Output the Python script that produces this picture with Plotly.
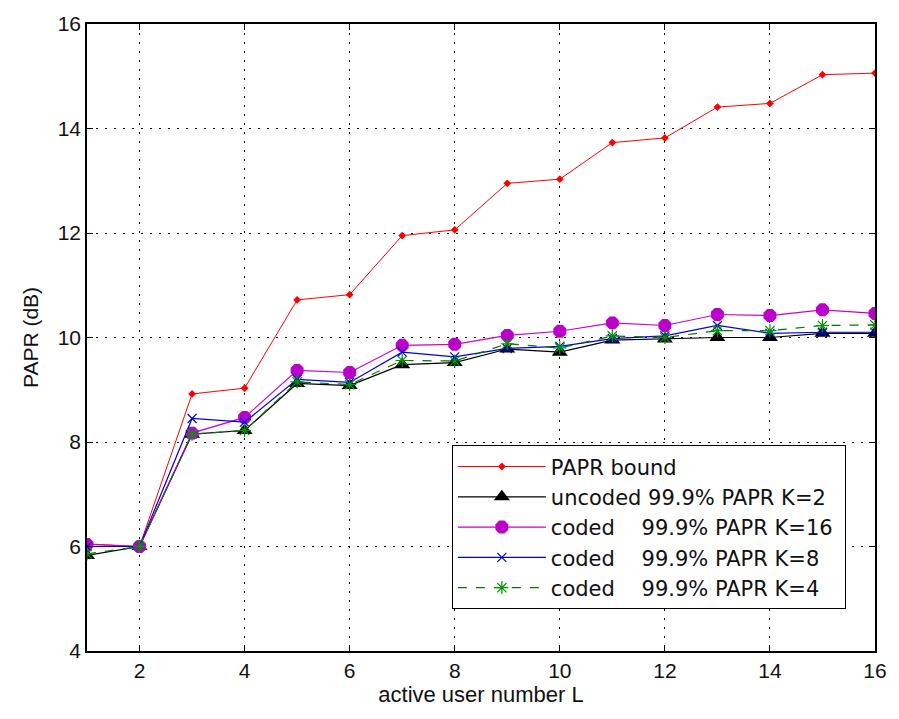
import plotly.graph_objects as go

L = list(range(1, 17))
papr_bound = [6.05, 6.0, 8.92, 9.03, 10.72, 10.82, 11.95, 12.06, 12.95, 13.03, 13.73, 13.82, 14.41, 14.48, 15.03, 15.06]
uncoded_k2 = [5.83, 6.0, 8.15, 8.22, 9.12, 9.08, 9.48, 9.52, 9.78, 9.72, 9.95, 9.97, 10.0, 10.0, 10.08, 10.08]
coded_k16 = [6.04, 6.0, 8.17, 8.47, 9.37, 9.33, 9.85, 9.87, 10.04, 10.12, 10.28, 10.23, 10.44, 10.42, 10.53, 10.46]
coded_k8 = [6.0, 6.0, 8.45, 8.38, 9.2, 9.14, 9.72, 9.63, 9.79, 9.83, 9.98, 10.03, 10.23, 10.08, 10.1, 10.1]
coded_k4 = [5.86, 6.0, 8.15, 8.22, 9.15, 9.1, 9.56, 9.55, 9.88, 9.8, 10.03, 10.0, 10.13, 10.13, 10.23, 10.24]

names = ["PAPR bound", "uncoded 99.9% PAPR K=2", "coded &nbsp;&nbsp;&nbsp;99.9% PAPR K=16&nbsp;",
         "coded &nbsp;&nbsp;&nbsp;99.9% PAPR K=8", "coded &nbsp;&nbsp;&nbsp;99.9% PAPR K=4"]

fig = go.Figure()
fig.add_trace(go.Scatter(x=L, y=papr_bound, name=names[0], mode="lines+markers",
                         line=dict(color="#ff0000", width=1),
                         marker=dict(symbol="diamond", size=6, color="#ff0000")))
fig.add_trace(go.Scatter(x=L, y=uncoded_k2, name=names[1], mode="lines+markers",
                         line=dict(color="#000000", width=1.2),
                         marker=dict(symbol="triangle-up", size=14, color="#000000")))
fig.add_trace(go.Scatter(x=L, y=coded_k16, name=names[2], mode="lines+markers",
                         line=dict(color="#cc00cc", width=1.2),
                         marker=dict(symbol="octagon", size=14, color="#bb00cc")))
fig.add_trace(go.Scatter(x=L, y=coded_k8, name=names[3], mode="lines+markers",
                         line=dict(color="#0000dd", width=1.2),
                         marker=dict(symbol="x-thin", size=9, color="#0000dd",
                                     line=dict(color="#0000dd", width=1.2))))
fig.add_trace(go.Scatter(x=L, y=coded_k4, name=names[4], mode="lines+markers",
                         line=dict(color="#007700", width=1.2, dash="dash"),
                         marker=dict(symbol="asterisk", size=11, color="#007700",
                                     line=dict(color="#009900", width=1.2))))

FAM = "Liberation Sans, Arial, sans-serif"
tick_font = dict(family=FAM, size=21, color="#111")
fig.update_layout(
    width=899, height=719,
    margin=dict(l=87, r=17, t=23, b=68),
    plot_bgcolor="white", paper_bgcolor="white",
    font=tick_font,
    xaxis=dict(range=[1, 16], tickvals=[2, 4, 6, 8, 10, 12, 14, 16],
               showgrid=True, gridcolor="#000", griddash="2px,7px", gridwidth=1.2,
               showline=True, linecolor="#000", linewidth=1.5, mirror="ticks",
               ticks="inside", ticklen=6, tickcolor="#000",
               zeroline=False, tickfont=tick_font,
               title=dict(text="active user number L", font=dict(family=FAM, size=22, color="#111"), standoff=2)),
    yaxis=dict(range=[4, 16], tickvals=[4, 6, 8, 10, 12, 14, 16],
               showgrid=True, gridcolor="#000", griddash="2px,7px", gridwidth=1.2,
               showline=True, linecolor="#000", linewidth=1.5, mirror="ticks",
               ticks="inside", ticklen=6, tickcolor="#000",
               zeroline=False, tickfont=tick_font,
               title=dict(text="PAPR (dB)", font=dict(family=FAM, size=21, color="#111"), standoff=13)),
    legend=dict(x=0.463, y=0.328, xanchor="left", yanchor="top",
                bgcolor="white", bordercolor="#000", borderwidth=1,
                font=dict(family="DejaVu Sans, sans-serif", size=21, color="#111"),
                itemwidth=88, tracegroupgap=0),
    showlegend=True,
)

fig.write_html("out.html")
